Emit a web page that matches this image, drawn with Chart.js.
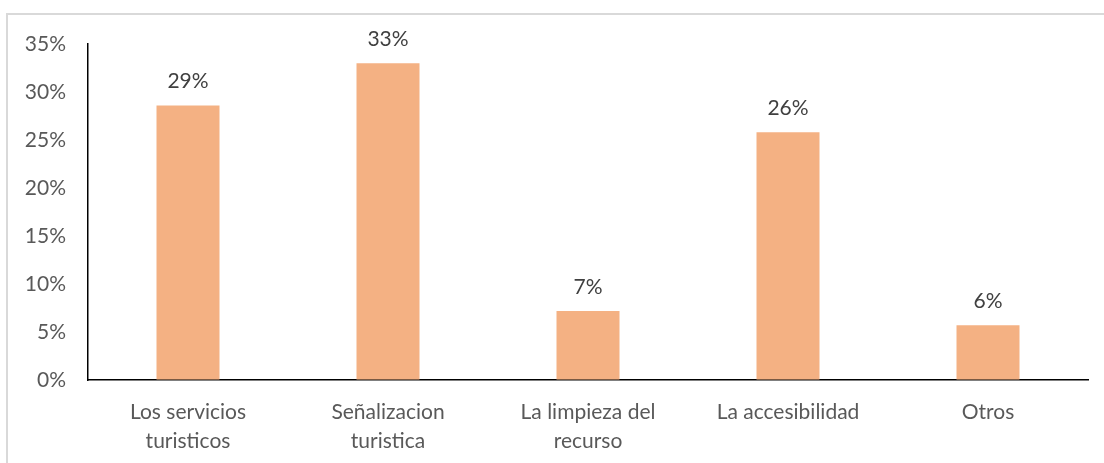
<!DOCTYPE html>
<html>
<head>
<meta charset="utf-8">
<script src="https://cdn.jsdelivr.net/npm/chart.js@4"></script>
<style>
  html, body { margin: 0; padding: 0; background: #fff; overflow: hidden; }
  #frame {
    position: absolute; left: 6px; top: 13px; width: 1200px; height: 600px;
    border-left: 2px solid #d9d9d9; border-top: 2px solid #d9d9d9;
  }
  #wrap { position: absolute; left: 0; top: 0; width: 1104px; height: 463px; }
</style>
</head>
<body>
<div id="frame"></div>
<div id="wrap"><canvas id="bar"></canvas></div>
<script>
const categories = [
  ['Los servicios', 'turisticos'],
  ['Señalizacion', 'turistica'],
  ['La limpieza del', 'recurso'],
  'La accesibilidad',
  'Otros'
];
const values = [28.6, 33.0, 7.2, 25.8, 5.7];
const yTicks = [0, 5, 10, 15, 20, 25, 30, 35];

// labels above each bar, like Excel's data labels
const barLabels = {
  id: 'barLabels',
  afterDatasetsDraw(chart) {
    const ctx = chart.ctx;
    const meta = chart.getDatasetMeta(0);
    ctx.save();
    ctx.font = '21px Lato';
    ctx.fillStyle = '#404040';
    ctx.textAlign = 'center';
    ctx.textBaseline = 'middle';
    meta.data.forEach(function (bar, i) {
      ctx.fillText(Math.round(values[i]) + '%', bar.x, bar.y - 24);
    });
    ctx.restore();
  }
};

const data = {
  labels: categories,
  datasets: [{
    data: values,
    backgroundColor: '#F4B183',
    borderWidth: 0,
    barPercentage: 0.315,
    categoryPercentage: 1
  }]
};

const bar = {
  type: 'bar',
  data: data,
  options: {
    responsive: true,
    maintainAspectRatio: false,
    animation: false,
    layout: { padding: { left: 0, right: 16, top: 44, bottom: 0 } },
    plugins: {
      legend: { display: false },
      tooltip: { enabled: false }
    },
    scales: {
      x: {
        grid: { color: 'transparent', drawTicks: false },
        border: { display: true, color: '#000', width: 1.5 },
        ticks: {
          color: '#595959',
          font: { family: 'Lato', size: 21, lineHeight: 1.38 },
          padding: 18,
          maxRotation: 0,
          autoSkip: false
        },
        afterFit: function (s) { s.height = 83; }
      },
      y: {
        min: 0,
        max: 35,
        afterBuildTicks: function (s) { s.ticks = yTicks.map(v => ({ value: v })); },
        grid: { color: 'transparent', drawTicks: false },
        border: { display: true, color: '#000', width: 1.5 },
        ticks: {
          color: '#595959',
          font: { family: 'Lato', size: 21 },
          padding: 22,
          callback: function (v) { return v + '%'; }
        },
        afterFit: function (s) { s.width = 88; }
      }
    }
  },
  plugins: [barLabels]
};

const chart = new Chart(document.getElementById('bar'), bar);
</script>
</body>
</html>
